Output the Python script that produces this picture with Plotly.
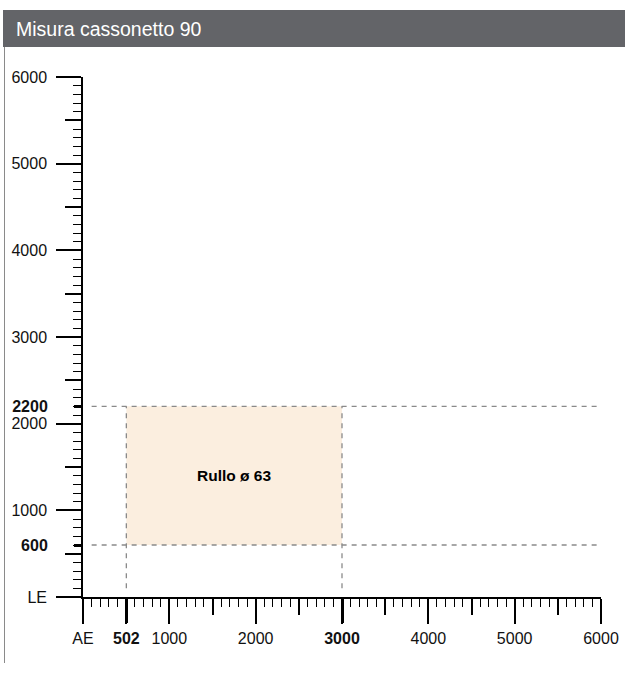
import plotly.graph_objects as go

# dati del grafico
titolo = "Misura cassonetto 90"
x_tick_vals = [0, 502, 1000, 2000, 3000, 4000, 5000, 6000]
x_tick_text = ["AE", "<b>502</b>", "1000", "2000", "<b>3000</b>", "4000", "5000", "6000"]
y_tick_vals = [0, 1000, 2000, 3000, 4000, 5000, 6000]
y_tick_text = ["LE", "1000", "2000", "3000", "4000", "5000", "6000"]
y_bold_vals = [600, 2200]
y_bold_text = ["<b>600</b>", "<b>2200</b>"]
larghezza_min, larghezza_max = 502, 3000
altezza_min, altezza_max = 600, 2200
etichetta_area = "<b>Rullo ø 63</b>"
limite_linee = [100, 6000]

W, H = 625, 675
# posizione dell'area del grafico in pixel
px_l, px_r, px_t, px_b = 83, 601, 77, 597

mid_vals = [v for v in range(1500, 6000, 1000)]
minor_vals = [v for v in range(100, 6000, 100) if v % 500 != 0]

FONT = "Liberation Sans, Arial, Helvetica, sans-serif"
GRIGIO_TRATT = "#8a8a8a"

fig = go.Figure()

# area colorata
fig.add_trace(go.Scatter(
    x=[larghezza_min, larghezza_max, larghezza_max, larghezza_min, larghezza_min],
    y=[altezza_min, altezza_min, altezza_max, altezza_max, altezza_min],
    fill="toself", fillcolor="#fbeedf", mode="lines", line=dict(width=0),
    hoverinfo="skip", showlegend=False))

# linee tratteggiate
tratt = dict(color=GRIGIO_TRATT, width=1.3, dash="5px,5px")
for yy in [altezza_max, altezza_min]:
    fig.add_trace(go.Scatter(x=limite_linee, y=[yy, yy], mode="lines",
                             line=tratt, showlegend=False, hoverinfo="skip"))
for xx in [larghezza_min, larghezza_max]:
    fig.add_trace(go.Scatter(x=[xx, xx], y=[limite_linee[0], altezza_max], mode="lines",
                             line=tratt, showlegend=False, hoverinfo="skip"))

# tracce invisibili per gli assi sovrapposti
for xa, ya in [("x2", "y2"), ("x3", "y3")]:
    fig.add_trace(go.Scatter(x=[0], y=[0], xaxis=xa, yaxis=ya, mode="markers",
                             marker=dict(opacity=0), showlegend=False, hoverinfo="skip"))

fig.add_annotation(x=(larghezza_min + larghezza_max) / 2, y=(altezza_min + altezza_max) / 2,
                   text=etichetta_area, showarrow=False,
                   font=dict(family=FONT, size=15.5, color="black"))

dom_x = [px_l / W, px_r / W]
dom_y = [1 - px_b / H, 1 - px_t / H]
rng = [0, 6000]
tick_font = dict(family=FONT, size=16, color="#111")

fig.update_layout(
    width=W, height=H,
    margin=dict(l=0, r=0, t=0, b=0),
    plot_bgcolor="white", paper_bgcolor="white",
    showlegend=False,
    xaxis=dict(range=rng, domain=dom_x, anchor="y", showgrid=False, zeroline=False,
               showline=True, linecolor="black", linewidth=1.5,
               ticks="outside", ticklen=25, tickwidth=1.5, tickcolor="black",
               tickmode="array", tickvals=x_tick_vals, ticktext=x_tick_text,
               tickfont=tick_font, ticklabelstandoff=1, automargin=False,
               minor=dict(tickmode="array", tickvals=minor_vals, ticks="outside",
                          ticklen=8, tickwidth=1.2, tickcolor="black")),
    yaxis=dict(range=rng, domain=dom_y, anchor="x", showgrid=False, zeroline=False,
               showline=True, linecolor="black", linewidth=1.5,
               ticks="outside", ticklen=25, tickwidth=1.5, tickcolor="black",
               tickmode="array", tickvals=y_tick_vals, ticktext=y_tick_text,
               tickfont=tick_font, ticklabelstandoff=6, automargin=False,
               minor=dict(tickmode="array", tickvals=minor_vals, ticks="outside",
                          ticklen=8, tickwidth=1.2, tickcolor="black")),
    # tacche intermedie (500)
    xaxis2=dict(range=rng, domain=dom_x, overlaying="x", anchor="y2", showgrid=False,
                zeroline=False, ticks="outside", ticklen=17, tickwidth=1.5,
                tickcolor="black", tickmode="array", tickvals=mid_vals,
                showticklabels=False, automargin=False),
    yaxis2=dict(range=rng, domain=dom_y, overlaying="y", anchor="x2", showgrid=False,
                zeroline=False, ticks="outside", ticklen=17, tickwidth=1.5,
                tickcolor="black", tickmode="array", tickvals=[500] + mid_vals,
                showticklabels=False, automargin=False),
    # tacche evidenziate
    xaxis3=dict(range=rng, domain=dom_x, overlaying="x", anchor="y3", showgrid=False,
                zeroline=False, ticks="outside", ticklen=25, tickwidth=2.6,
                tickcolor="black", tickmode="array", tickvals=[larghezza_min, larghezza_max],
                showticklabels=False, automargin=False),
    yaxis3=dict(range=rng, domain=dom_y, overlaying="y", anchor="x3", showgrid=False,
                zeroline=False, ticks="outside", ticklen=8, tickwidth=2.6,
                tickcolor="black", tickmode="array", tickvals=y_bold_vals,
                ticktext=y_bold_text, tickfont=tick_font, ticklabelstandoff=23,
                automargin=False),
    shapes=[
        dict(type="rect", xref="paper", yref="paper", x0=3 / W, x1=1,
             y0=1 - 47 / H, y1=1 - 10 / H, fillcolor="#636468", line=dict(width=0),
             layer="below"),
        dict(type="line", xref="paper", yref="paper", x0=4.5 / W, x1=4.5 / W,
             y0=1 - 47 / H, y1=1 - 663 / H, line=dict(color="#8a8a8a", width=1)),
    ],
    font=dict(family=FONT),
)

fig.add_annotation(xref="paper", yref="paper", x=14 / W, y=1 - 28.5 / H,
                   xanchor="left", yanchor="middle", showarrow=False,
                   text=titolo, font=dict(family=FONT, size=19.5, color="white"))

# niente margine della pagina: il grafico occupa tutta la finestra
fig.write_html("out.html", config={"displayModeBar": False},
               post_script="document.body.style.margin='0';")
